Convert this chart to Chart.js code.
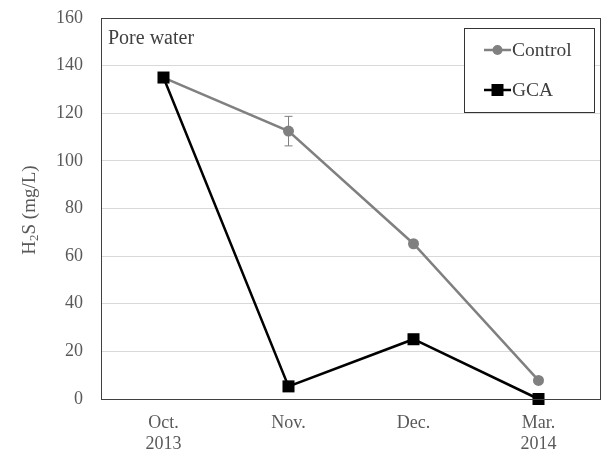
<!DOCTYPE html>
<html><head><meta charset="utf-8">
<script src="https://cdn.jsdelivr.net/npm/chart.js@4"></script>
<style>html,body{margin:0;padding:0;background:#fff}#wrap{width:603px;height:454px}</style>
</head><body><div id="wrap"><canvas id="c" width="603" height="454"></canvas></div>
<script>
const categories = [["Oct.", "2013"], "Nov.", "Dec.", ["Mar.", "2014"]];
const controlValues = [135, 112.5, 65.2, 7.8];
const controlErrLow = [null, 106.3, null, null];
const controlErrHigh = [null, 118.7, null, null];
const gcaValues = [135, 5.3, 25.1, 0];
const yTicks = [0, 20, 40, 60, 80, 100, 120, 140, 160];
const panelLabel = "Pore water";
const seriesNames = ["Control", "GCA"];

const FONT = "'Liberation Serif', 'Times New Roman', serif";
const GRAY = "#808080";

const decor = {
  id: 'decor',
  beforeDatasetsDraw(chart) {
    const ctx = chart.ctx, x = chart.scales.x, y = chart.scales.y;
    ctx.save();
    ctx.strokeStyle = GRAY; ctx.lineWidth = 1;
    controlErrLow.forEach((lo, i) => {
      const hi = controlErrHigh[i];
      if (lo == null || hi == null) return;
      const px = x.getPixelForValue(i), yl = y.getPixelForValue(lo), yh = y.getPixelForValue(hi);
      ctx.beginPath();
      ctx.moveTo(px, yl); ctx.lineTo(px, yh);
      ctx.moveTo(px - 4, yl); ctx.lineTo(px + 4, yl);
      ctx.moveTo(px - 4, yh); ctx.lineTo(px + 4, yh);
      ctx.stroke();
    });
    ctx.restore();
  },
  afterDatasetsDraw(chart) {
    const ctx = chart.ctx, a = chart.chartArea;
    ctx.save();
    ctx.strokeStyle = "#404040"; ctx.lineWidth = 1;
    ctx.strokeRect(a.left + 0.5, a.top + 0.5, a.right - a.left - 1, a.bottom - a.top);
    ctx.fillStyle = "#404040";
    ctx.font = "20px " + FONT;
    ctx.textBaseline = "alphabetic"; ctx.textAlign = "left";
    ctx.fillText(panelLabel, 108, 44);
    const lx = 464.5, ly = 28.5, lw = 130, lh = 84;
    ctx.fillStyle = "#fff"; ctx.fillRect(lx, ly, lw, lh);
    ctx.strokeStyle = "#333"; ctx.lineWidth = 1; ctx.strokeRect(lx, ly, lw, lh);
    const rows = [50, 90];
    ctx.strokeStyle = GRAY; ctx.lineWidth = 2.5;
    ctx.beginPath(); ctx.moveTo(484, rows[0]); ctx.lineTo(511, rows[0]); ctx.stroke();
    ctx.fillStyle = GRAY; ctx.beginPath(); ctx.arc(497.5, rows[0], 5, 0, Math.PI * 2); ctx.fill();
    ctx.strokeStyle = "#000";
    ctx.beginPath(); ctx.moveTo(484, rows[1]); ctx.lineTo(511, rows[1]); ctx.stroke();
    ctx.fillStyle = "#000"; ctx.fillRect(491.5, rows[1] - 6, 12, 12);
    ctx.fillStyle = "#404040"; ctx.font = "19.5px " + FONT; ctx.textBaseline = "middle";
    ctx.fillText(seriesNames[0], 512, rows[0] + 1);
    ctx.fillText(seriesNames[1], 512, rows[1] + 1);
    ctx.translate(30, 210); ctx.rotate(-Math.PI / 2);
    ctx.textBaseline = "middle"; ctx.textAlign = "left";
    const p1 = "H", p2 = "2", p3 = "S (mg/L)";
    ctx.font = "19px " + FONT; const w1 = ctx.measureText(p1).width;
    ctx.font = "13px " + FONT; const w2 = ctx.measureText(p2).width;
    ctx.font = "19px " + FONT; const w3 = ctx.measureText(p3).width;
    let sx = -(w1 + w2 + w3) / 2;
    ctx.fillStyle = "#595959";
    ctx.font = "19px " + FONT; ctx.fillText(p1, sx, 0); sx += w1;
    ctx.font = "13px " + FONT; ctx.fillText(p2, sx, 5); sx += w2;
    ctx.font = "19px " + FONT; ctx.fillText(p3, sx, 0);
    ctx.restore();
  }
};

new Chart(document.getElementById('c'), {
  type: 'line',
  data: {
    labels: categories,
    datasets: [
      { label: seriesNames[0], data: controlValues, borderColor: GRAY, backgroundColor: GRAY,
        borderWidth: 2.5, pointStyle: 'circle', pointRadius: 5.5, pointBorderWidth: 0, order: 1, tension: 0 },
      { label: seriesNames[1], data: gcaValues, borderColor: '#000', backgroundColor: '#000',
        borderWidth: 2.5, pointStyle: 'rect', pointRadius: 8.5, pointBorderWidth: 0, order: 0, tension: 0 }
    ]
  },
  options: {
    responsive: false, animation: false,
    layout: { autoPadding: false, padding: { top: 18, right: 2, left: 0, bottom: 0 } },
    plugins: { legend: { display: false }, tooltip: { enabled: false } },
    scales: {
      x: {
        offset: true,
        grid: { display: false },
        border: { display: false },
        ticks: { color: '#595959', font: { family: FONT, size: 18 }, padding: 5, maxRotation: 0 },
        afterFit(s) { s.height = 55; s.paddingLeft = 0; s.paddingRight = 0; }
      },
      y: {
        min: 0, max: 160,
        afterBuildTicks(s) { s.ticks = yTicks.map(v => ({ value: v })); },
        grid: { color: '#d9d9d9', drawTicks: false },
        border: { display: false },
        ticks: { color: '#595959', font: { family: FONT, size: 18 }, padding: 18 },
        afterFit(s) { s.width = 101; s.paddingTop = 0; s.paddingBottom = 0; }
      }
    },
    clip: false
  },
  plugins: [decor]
});
</script></body></html>
